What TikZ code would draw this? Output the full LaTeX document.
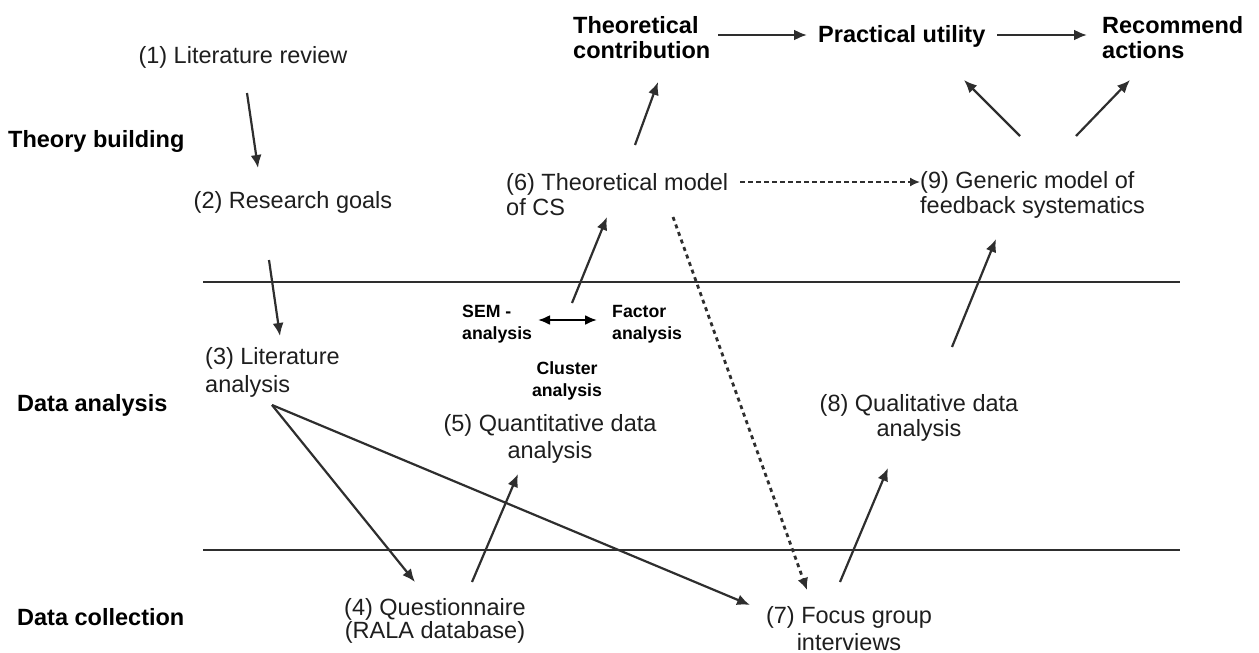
\documentclass[tikz,border=0pt]{standalone}
\usepackage{fontspec}
\setmainfont{Liberation Sans}
\usetikzlibrary{arrows.meta,calc}
\definecolor{ink}{HTML}{1E1E1E}
\definecolor{wire}{HTML}{2E2E2E}
\begin{document}
\begin{tikzpicture}[x=1pt,y=-1pt,
  lbl/.style={inner sep=0pt, text=ink, font=\fontsize{23.5}{26}\selectfont},
  head/.style={inner sep=0pt, text=black, font=\fontsize{23.5}{25}\selectfont\bfseries},
  minor/.style={inner sep=0pt, text=black, font=\fontsize{17.7}{22}\selectfont\bfseries},
  arr/.style={draw=wire, line width=2.2pt, -{Latex[length=13pt,width=11pt]}},
  twoway/.style={draw=black, line width=2.2pt, {Latex[length=12pt,width=10pt]}-{Latex[length=12pt,width=10pt]}},
  dashedarr/.style={draw=wire, line width=1.6pt, dash pattern=on 5pt off 3pt, -{Latex[length=10pt,width=9pt]}},
  dottedarr/.style={draw=wire, line width=2.8pt, dash pattern=on 4pt off 4pt, -{Latex[length=12pt,width=11pt]}},
  rule/.style={draw=wire, line width=2pt}]
\useasboundingbox (0,0) rectangle (1259,653);

% phase labels
\node[head, anchor=base west] (tb) at (8,147) {Theory building};
\node[head, anchor=base west] (da) at (17,411) {Data analysis};
\node[head, anchor=base west] (dc) at (17,625) {Data collection};

% phase separators
\coordinate (s1a) at (203,282); \coordinate (s1b) at (1180,282);
\coordinate (s2a) at (203,550); \coordinate (s2b) at (1180,550);
\draw[rule] (s1a) -- (s1b);
\draw[rule] (s2a) -- (s2b);

% research steps
\node[lbl, anchor=base] (n1) at (243,63) {(1) Literature review};
\node[lbl, anchor=base] (n2) at (293,208) {(2) Research goals};
\node[lbl, anchor=west, align=left, font=\fontsize{23.5}{28}\selectfont] (n3) at (205,372.5) {(3) Literature\\analysis};
\node[lbl, align=center, font=\fontsize{23.5}{23}\selectfont] (n4) at (435,621) {(4) Questionnaire\\(RALA database)};
\node[lbl, align=center, font=\fontsize{23.5}{27}\selectfont] (n5) at (550,438.5) {(5) Quantitative data\\analysis};
\node[lbl, anchor=west, align=left, font=\fontsize{23.5}{25}\selectfont] (n6) at (506,194.5) {(6) Theoretical model\\of CS};
\node[lbl, align=center, font=\fontsize{23.5}{27}\selectfont] (n7) at (849,628.5) {(7) Focus group\\interviews};
\node[lbl, align=center, font=\fontsize{23.5}{25}\selectfont] (n8) at (919,417.5) {(8) Qualitative data\\analysis};
\node[lbl, anchor=west, align=left, font=\fontsize{23.5}{25}\selectfont] (n9) at (920,194.5) {(9) Generic model of\\feedback systematics};

% analysis methods
\node[minor, anchor=west, align=left] (sem) at (462,324) {SEM -\\analysis};
\node[minor, anchor=west, align=left] (fac) at (612,324) {Factor\\analysis};
\node[minor, align=center] (clu) at (567,381) {Cluster\\analysis};

% outcomes
\node[head, anchor=west, align=left] (tc) at (573,37.5) {Theoretical\\contribution};
\node[head, anchor=base west] (pu) at (818,42) {Practical utility};
\node[head, anchor=west, align=left] (ra) at (1102,37.5) {Recommend\\actions};

% connectors
\draw[arr] ($(n1.base)+(4,30)$) -- ($(n2.base)+(-35,-40)$);
\draw[arr] ($(n2.base)+(-24,52)$) -- ($(n3.west)+(75,-36.5)$);
\draw[arr] ($(n3.west)+(67,32.5)$) -- ($(n4)+(-20,-39)$);
\draw[arr] ($(n3.west)+(67,32.5)$) -- ($(n7)+(-99,-23.5)$);
\draw[arr] ($(n4)+(37,-39)$) -- ($(n5)+(-32,35.5)$);
\draw[twoway] ($(sem.west)+(76,-4)$) -- ($(fac.west)+(-15,-4)$);
\draw[arr] ($(sem.west)+(110,-21)$) -- ($(n6.west)+(101,22.5)$);
\draw[arr] ($(n6.west)+(129,-49.5)$) -- ($(tc.west)+(85,44.5)$);
\draw[arr] ($(tc.west)+(145,-2.5)$) -- ($(pu.base west)+(-11,-7)$);
\draw[arr] ($(pu.base west)+(179,-7)$) -- ($(ra.west)+(-15,-2.5)$);
\draw[dashedarr] ($(n6.west)+(234,-12.5)$) -- ($(n9.west)+(0,-12.5)$);
\draw[dottedarr] ($(n6.west)+(167,22.5)$) -- ($(n7)+(-42,-38.5)$);
\draw[arr] ($(n7)+(-9,-46.5)$) -- ($(n8)+(-31,50.5)$);
\draw[arr] ($(n8)+(33,-70.5)$) -- ($(n9.west)+(76,44.5)$);
\draw[arr] ($(n9.west)+(100,-58.5)$) -- ($(pu.base west)+(146,38)$);
\draw[arr] ($(n9.west)+(156,-58.5)$) -- ($(ra.west)+(28,42.5)$);
\end{tikzpicture}
\end{document}
